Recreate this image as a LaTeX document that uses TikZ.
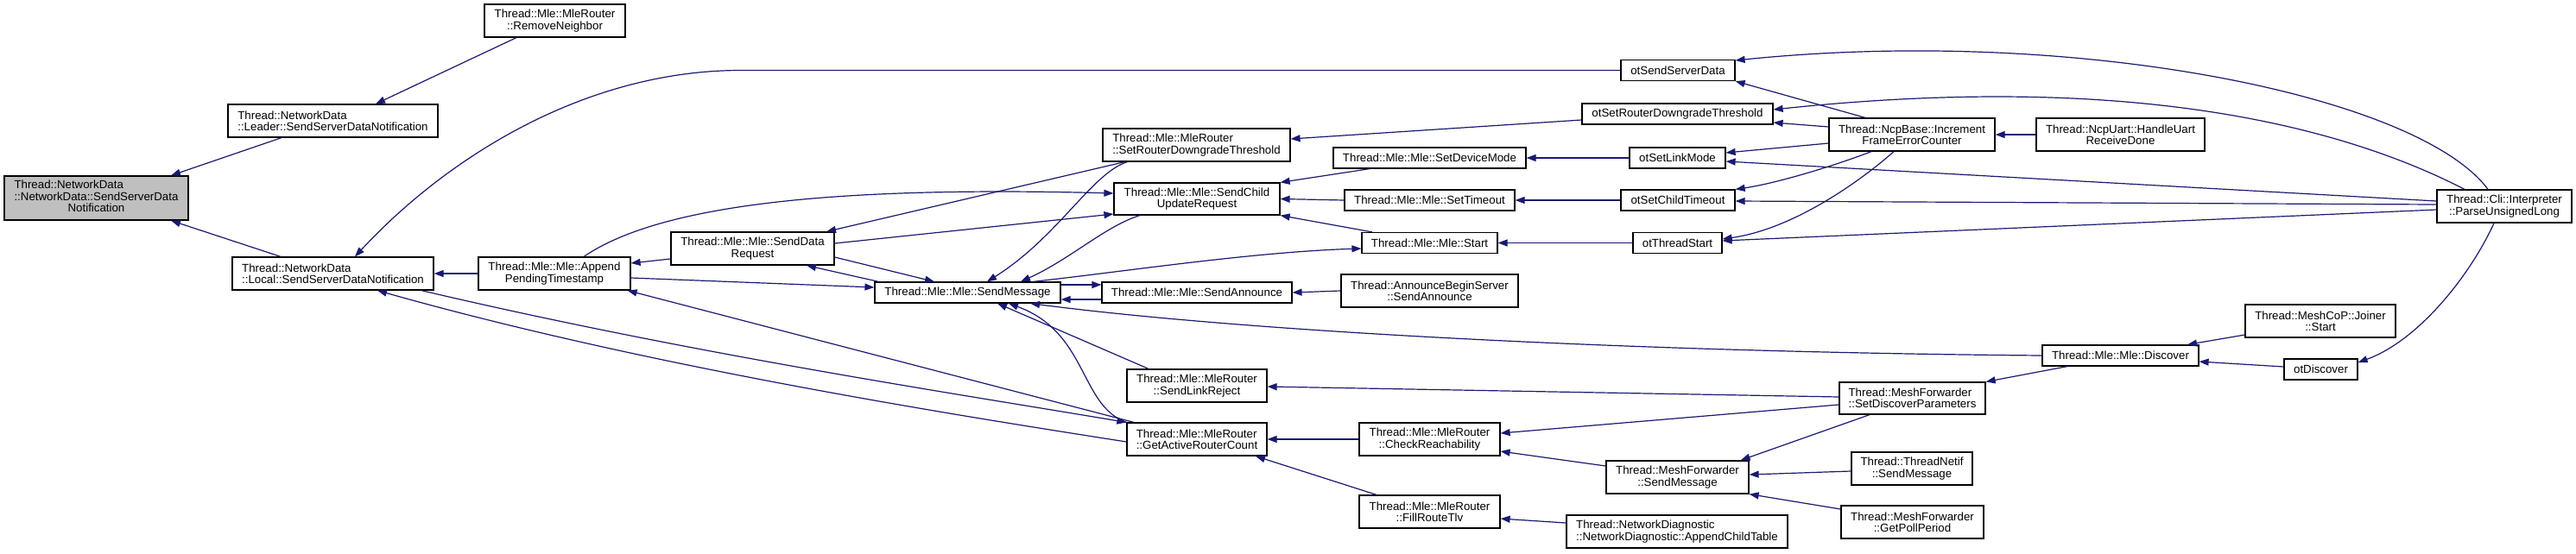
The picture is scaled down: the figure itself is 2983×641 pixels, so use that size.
\documentclass[tikz,border=0pt]{standalone}
\usepackage{fontspec}
\setmainfont{Liberation Sans}
\usetikzlibrary{arrows.meta}
\definecolor{edgec}{HTML}{191970}
\definecolor{rootfill}{gray}{0.75}
\begin{document}
\begin{tikzpicture}[x=1pt,y=-1pt,
  box/.style={draw=black, line width=1.2pt, fill=white, inner sep=0pt,
    font=\fontsize{13.3}{13.3}\selectfont, align=center},
  lbox/.style={box, align=left},
  e/.style={draw=edgec, line width=1.2pt, -{Triangle[length=11pt,width=8pt]}}]
\fill[white] (0,0) rectangle (2983,641);
\useasboundingbox (0,0) rectangle (2983,641);
% nodes
\node[box, fill=rootfill, minimum width=213pt, minimum height=51pt] (root) at (111.5,229.5)
  {\begin{tabular}{@{}l@{}}Thread::NetworkData\\::NetworkData::SendServerData\\\multicolumn{1}{@{}c@{}}{Notification}\end{tabular}};
\node[lbox, minimum width=243pt, minimum height=38pt] (leader) at (385.5,140) {Thread::NetworkData\\::Leader::SendServerDataNotification};
\node[box, minimum width=163pt, minimum height=38pt] (remn) at (642.5,24) {Thread::Mle::MleRouter\\::RemoveNeighbor};
\node[lbox, minimum width=233pt, minimum height=38pt] (local) at (385.5,317) {Thread::NetworkData\\::Local::SendServerDataNotification};
\node[box, minimum width=176pt, minimum height=38pt] (append) at (642,317) {Thread::Mle::Mle::Append\\PendingTimestamp};
\node[box, minimum width=189pt, minimum height=38pt] (sdr) at (871.5,288) {Thread::Mle::Mle::SendData\\Request};
\node[lbox, minimum width=217pt, minimum height=38pt] (srdt) at (1385.5,168) {Thread::Mle::MleRouter\\::SetRouterDowngradeThreshold};
\node[box, minimum width=192pt, minimum height=37pt] (scur) at (1386,230.5) {Thread::Mle::Mle::SendChild\\UpdateRequest};
\node[box, minimum width=215pt, minimum height=24pt] (smsg) at (1120.5,339) {Thread::Mle::Mle::SendMessage};
\node[box, minimum width=220pt, minimum height=24pt] (mann) at (1386,339) {Thread::Mle::Mle::SendAnnounce};
\node[box, minimum width=162pt, minimum height=38pt] (slr) at (1386,447) {Thread::Mle::MleRouter\\::SendLinkReject};
\node[lbox, minimum width=162pt, minimum height=38pt] (garc) at (1386,509) {Thread::Mle::MleRouter\\::GetActiveRouterCount};
\node[box, minimum width=223pt, minimum height=24pt] (sdm) at (1655.5,183) {Thread::Mle::Mle::SetDeviceMode};
\node[box, minimum width=197pt, minimum height=24pt] (sto) at (1655.5,232) {Thread::Mle::Mle::SetTimeout};
\node[box, minimum width=157pt, minimum height=24pt] (mstart) at (1655.5,281.5) {Thread::Mle::Mle::Start};
\node[box, minimum width=205pt, minimum height=38pt] (abs) at (1655.5,337) {Thread::AnnounceBeginServer\\::SendAnnounce};
\node[box, minimum width=163pt, minimum height=38pt] (chk) at (1655.5,509) {Thread::Mle::MleRouter\\::CheckReachability};
\node[box, minimum width=163pt, minimum height=38pt] (frt) at (1655.5,593) {Thread::Mle::MleRouter\\::FillRouteTlv};
\node[box, minimum width=132pt, minimum height=24pt] (otssd) at (1943,81.5) {otSendServerData};
\node[box, minimum width=221pt, minimum height=24pt] (otsrdt) at (1942.5,132) {otSetRouterDowngradeThreshold};
\node[box, minimum width=111pt, minimum height=24pt] (otslm) at (1942.5,183) {otSetLinkMode};
\node[box, minimum width=132pt, minimum height=24pt] (otsct) at (1943,232) {otSetChildTimeout};
\node[box, minimum width=103pt, minimum height=24pt] (otts) at (1942.5,281.5) {otThreadStart};
\node[box, minimum width=165pt, minimum height=38pt] (mfsm) at (1942.5,553) {Thread::MeshForwarder\\::SendMessage};
\node[lbox, minimum width=256pt, minimum height=38pt] (act) at (1942,616) {Thread::NetworkDiagnostic\\::NetworkDiagnostic::AppendChildTable};
\node[box, minimum width=192pt, minimum height=38pt] (fec) at (2214,156) {Thread::NcpBase::Increment\\FrameErrorCounter};
\node[lbox, minimum width=169pt, minimum height=37pt] (sdp) at (2214.5,461.5) {Thread::MeshForwarder\\::SetDiscoverParameters};
\node[box, minimum width=140pt, minimum height=38pt] (tnsm) at (2214,543) {Thread::ThreadNetif\\::SendMessage};
\node[box, minimum width=165pt, minimum height=38pt] (gpp) at (2214.5,605) {Thread::MeshForwarder\\::GetPollPeriod};
\node[box, minimum width=195pt, minimum height=38pt] (uart) at (2455.5,156) {Thread::NcpUart::HandleUart\\ReceiveDone};
\node[box, minimum width=181pt, minimum height=24pt] (disc) at (2455.5,412) {Thread::Mle::Mle::Discover};
\node[box, minimum width=174pt, minimum height=38pt] (joiner) at (2687,372) {Thread::MeshCoP::Joiner\\::Start};
\node[box, minimum width=85pt, minimum height=24pt] (otdisc) at (2687.5,428) {otDiscover};
\node[box, minimum width=156pt, minimum height=38pt] (pul) at (2900,239) {Thread::Cli::Interpreter\\::ParseUnsignedLong};
% edges
\draw[e] ([xshift=-59.5pt]leader.south) -- ([xshift=86.5pt]root.north);
\draw[e] ([xshift=-60.5pt]local.north) -- ([xshift=86.5pt]root.south);
\draw[e] ([xshift=-44.5pt]remn.south) -- ([xshift=49.5pt]leader.north);
\draw[e] (otssd.west) -- (858,81.5) .. controls (680,81.5) and (520,180) .. ([xshift=25.5pt]local.north);
\draw[e] (append.west) -- (local.east);
\draw[e] ([xshift=102.5pt]local.south) .. controls (800,410) and (1100,455) .. (garc.north west);
\draw[e] ([yshift=-3pt]garc.west) .. controls (1100,480) and (750,425) .. ([xshift=51.5pt]local.south);
\draw[e] ([xshift=-73pt]garc.north) -- ([xshift=-4pt]append.south east);
\draw[e] ([yshift=-5pt]append.east) -- ([yshift=6pt]smsg.west);
\draw[e] ([yshift=-12pt]sdr.west) -- ([yshift=12pt]append.east);
\draw[e] ([xshift=34pt]append.north) .. controls (760,240) and (950,215) .. ([yshift=6.5pt]scur.west);
\draw[e] ([yshift=6pt]sdr.east) -- ([yshift=-17.5pt]scur.west);
\draw[e] ([yshift=-10pt]sdr.east) -- ([xshift=-38.5pt]smsg.north);
\draw[e] ([xshift=5pt]smsg.north west) -- ([xshift=62.5pt]sdr.south);
\draw[e] ([xshift=-83pt]srdt.south) -- ([xshift=85.5pt]sdr.north);
\draw[e] ([xshift=-80pt]srdt.south) .. controls (1265,200) and (1225,275) .. ([xshift=22.5pt]smsg.north);
\draw[e] ([xshift=-66pt]scur.south) .. controls (1280,262) and (1240,300) .. ([xshift=61.5pt]smsg.north);
\draw[e] ([xshift=75.5pt]smsg.north) .. controls (1300,315) and (1450,292) .. ([yshift=-6.5pt]mstart.west);
\draw[e] ([xshift=-66.5pt]mstart.north) -- (scur.south east);
\draw[e] (sto.west) -- (scur.east);
\draw[e] ([xshift=-69.5pt]sdm.south) -- (scur.north east);
\draw[e] ([yshift=-7pt]otsrdt.west) -- ([yshift=7pt]srdt.east);
\draw[e] (otslm.west) -- (sdm.east);
\draw[e] (otsct.west) -- (sto.east);
\draw[e] (otts.west) -- (mstart.east);
\draw[e] ([xshift=-54pt]fec.north) -- (otssd.south east);
\draw[e] ([yshift=9pt]fec.west) -- ([yshift=-10pt]otsrdt.east);
\draw[e] ([yshift=-10pt]fec.west) -- ([yshift=6pt]otslm.east);
\draw[e] ([xshift=-47pt]fec.south) .. controls (2130,190) and (2060,212) .. (otsct.north east);
\draw[e] ([xshift=-21pt]fec.south) .. controls (2160,205) and (2080,265) .. ([yshift=4.5pt]otts.east);
\draw[e] (uart.west) -- (fec.east);
\draw[e] ([xshift=-19pt]pul.north) .. controls (2800,110) and (2400,30) .. ([yshift=11.5pt]otssd.east);
\draw[e] ([xshift=-46pt]pul.north) .. controls (2700,140) and (2450,85) .. ([yshift=5pt]otsrdt.east);
\draw[e] ([yshift=6pt]pul.west) -- ([yshift=-4pt]otslm.east);
\draw[e] ([yshift=2pt]pul.west) -- ([yshift=-1pt]otsct.east);
\draw[e] ([yshift=-4pt]pul.west) -- ([yshift=2.5pt]otts.east);
\draw[e] ([xshift=-12pt]pul.south) .. controls (2860,320) and (2800,395) .. ([yshift=8pt]otdisc.east);
\draw[e] ([yshift=3pt]otdisc.west) -- ([yshift=-7pt]disc.east);
\draw[e] ([yshift=-16pt]joiner.west) -- ([xshift=77.5pt]disc.north);
\draw[e] ([xshift=-61.5pt]disc.south) -- (sdp.north east);
\draw[e] (disc.west) .. controls (1900,408) and (1450,385) .. ([xshift=72.5pt]smsg.south);
\draw[e] ([yshift=1.5pt]sdp.west) -- ([yshift=-1pt]slr.east);
\draw[e] ([yshift=-7.5pt]sdp.west) -- ([yshift=7pt]chk.east);
\draw[e] ([xshift=-49.5pt]sdp.south) -- ([xshift=-10pt]mfsm.north east);
\draw[e] ([yshift=13pt]mfsm.west) -- ([yshift=-14pt]chk.east);
\draw[e] ([yshift=-3pt]tnsm.west) -- ([yshift=3pt]mfsm.east);
\draw[e] ([yshift=15pt]gpp.west) -- (mfsm.south east);
\draw[e] (chk.west) -- (garc.east);
\draw[e] ([xshift=-61.5pt]frt.north) -- ([xshift=68pt]garc.south);
\draw[e] ([yshift=10pt]act.west) -- ([yshift=-8pt]frt.east);
\draw[e] ([yshift=9pt]smsg.east) -- ([yshift=9pt]mann.west);
\draw[e] ([yshift=-8pt]mann.west) -- ([yshift=-8pt]smsg.east);
\draw[e] (abs.west) -- (mann.east);
\draw[e] ([xshift=-56pt]slr.north) -- ([xshift=34.5pt]smsg.south);
\draw[e] (garc.north west) .. controls (1250,470) and (1260,385) .. ([xshift=47.5pt]smsg.south);
\end{tikzpicture}
\end{document}
